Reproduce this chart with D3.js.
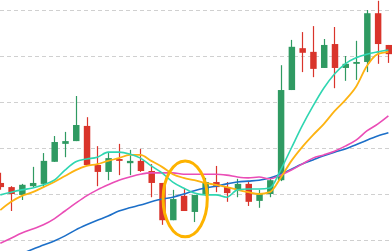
<!DOCTYPE html>
<html>
<head>
<meta charset="utf-8">
<script src="https://cdn.jsdelivr.net/npm/d3@7"></script>
<style>
  html, body { margin: 0; padding: 0; background: #fff; overflow: hidden; }
</style>
</head>
<body>
<script>
// candle values (open, close, high, low), one per session
const opens  = [12.4, 11.5, 9.8, 11.7, 12.2, 17.0, 20.9, 21.5, 24.8, 16.3, 14.8, 17.6, 16.7, 17.2, 15.0, 12.4, 4.3, 9.6, 6.1, 9.8, 12.6, 11.5, 10.7, 12.2, 8.5, 10.0, 13.0, 32.6, 41.7, 40.9, 37.4, 42.6, 37.4, 38.3, 38.7, 49.3, 42.4];
const closes = [11.5, 10.0, 12.0, 12.4, 17.2, 21.3, 21.5, 25.0, 16.3, 14.8, 17.8, 17.2, 17.2, 15.0, 12.4, 4.3, 8.9, 6.3, 9.8, 12.6, 11.5, 10.2, 12.2, 8.3, 10.0, 13.0, 32.6, 42.0, 40.7, 37.2, 42.4, 37.4, 38.3, 38.7, 49.3, 42.6, 40.4];
const highs  = [14.6, 11.7, 12.2, 15.9, 18.9, 22.6, 23.5, 31.3, 26.7, 20.4, 18.9, 20.9, 19.6, 19.8, 16.5, 12.4, 10.9, 11.3, 9.8, 13.5, 16.1, 12.6, 13.3, 12.6, 10.9, 13.3, 38.0, 43.5, 45.2, 46.5, 43.7, 46.3, 40.0, 43.3, 50.0, 52.0, 42.4];
const lows   = [10.9, 6.3, 8.7, 11.5, 11.3, 17.0, 18.0, 21.5, 16.3, 11.7, 13.0, 14.1, 14.1, 14.8, 9.3, 3.3, 4.3, 6.3, 3.9, 9.6, 10.4, 8.3, 9.3, 7.4, 7.0, 9.3, 12.8, 32.6, 36.5, 35.4, 37.4, 33.0, 34.6, 34.8, 36.5, 38.3, 38.5];

// moving averages
const ma5  = [9.8, 10.4, 10.9, 11.3, 12.0, 13.0, 15.2, 17.0, 17.6, 18.0, 19.1, 19.1, 18.7, 17.8, 16.1, 14.6, 12.6, 11.3, 10.2, 9.8, 9.8, 9.3, 10.9, 11.1, 11.1, 11.3, 15.2, 20.0, 24.8, 29.1, 33.0, 36.1, 38.3, 39.6, 40.4, 40.9, 41.3];
const ma10 = [6.5, 8.3, 9.6, 10.4, 11.5, 12.6, 13.9, 15.2, 16.1, 16.5, 17.2, 17.8, 18.5, 18.5, 17.2, 15.9, 14.3, 13.5, 13.0, 12.4, 12.0, 11.5, 10.9, 10.4, 10.0, 10.4, 13.5, 17.2, 20.2, 22.8, 25.2, 28.0, 30.4, 33.3, 37.8, 40.4, 40.9];
const ma20 = [-0.7, 0.4, 1.5, 2.4, 3.3, 4.6, 6.3, 8.0, 9.6, 10.9, 12.0, 13.0, 13.7, 14.3, 14.6, 14.6, 14.6, 14.3, 14.3, 14.3, 14.3, 14.1, 13.7, 13.5, 13.7, 13.3, 14.1, 15.2, 16.5, 17.8, 18.5, 19.3, 20.4, 21.7, 23.7, 25.2, 27.0];
const ma30 = [-5.2, -4.1, -3.0, -2.0, -1.1, -0.2, 0.9, 2.2, 3.3, 4.3, 5.2, 6.3, 7.0, 7.6, 8.3, 8.9, 9.3, 10.0, 10.7, 11.3, 11.7, 12.2, 12.6, 12.8, 13.0, 13.5, 14.3, 15.4, 16.5, 17.4, 18.3, 19.1, 19.8, 20.7, 21.7, 22.6, 23.3];

const gridTicks = [0, 10, 20, 30, 40, 50];

// circled sessions (index span and price span)
const highlight = {start: 15.1, end: 19.2, low: 0.7, high: 17.2};

const width = 392;
const height = 251;

const svg = d3.select("body").append("svg")
    .attr("width", width)
    .attr("height", height);

const xScale = d3.scaleLinear()
    .domain([0, opens.length - 1])
    .range([0.3, 388.4]);

const yScale = d3.scaleLinear()
    .domain([0, 50])
    .range([240, 10]);

const step = xScale(1) - xScale(0);
const bodyWidth = step * 0.6;

// dashed grid
const yAxis = d3.axisLeft(yScale)
    .tickValues(gridTicks)
    .tickSize(-width)
    .tickFormat("");

svg.append("g")
    .attr("transform", "translate(0,0)")
    .call(yAxis)
    .call(g => g.select(".domain").remove())
    .call(g => g.selectAll(".tick line")
        .attr("stroke", "#d0d0d0")
        .attr("stroke-dasharray", "4,3"));

const candles = opens.map((o, i) => ({
    i: i, open: o, close: closes[i], high: highs[i], low: lows[i]
}));

const green = "#2f9a62";
const red = "#d9342b";
const color = (d) => d.close >= d.open ? green : red;

svg.append("g").selectAll("line")
    .data(candles)
    .enter()
    .append("line")
    .attr("x1", d => Math.round(xScale(d.i)) + 0.5)
    .attr("x2", d => Math.round(xScale(d.i)) + 0.5)
    .attr("y1", d => yScale(d.high))
    .attr("y2", d => yScale(d.low))
    .attr("stroke", color)
    .attr("stroke-width", 1.2);

svg.append("g").selectAll("rect")
    .data(candles)
    .enter()
    .append("rect")
    .attr("x", d => xScale(d.i) - bodyWidth / 2 + 0.5)
    .attr("y", d => yScale(Math.max(d.open, d.close)))
    .attr("width", bodyWidth)
    .attr("height", d => Math.max(1.5, Math.abs(yScale(d.open) - yScale(d.close))))
    .attr("fill", color);

const series = [
    {values: ma30, color: "#1c6fc8", width: 1.6},
    {values: ma20, color: "#ea4db6", width: 1.6},
    {values: ma10, color: "#fdb312", width: 1.8},
    {values: ma5,  color: "#2fd6b1", width: 1.6}
];

const line = d3.line()
    .x((d, i) => xScale(i))
    .y(d => yScale(d))
    .curve(d3.curveMonotoneX);

svg.append("g").selectAll("path")
    .data(series)
    .enter()
    .append("path")
    .attr("d", d => line(d.values))
    .attr("fill", "none")
    .attr("stroke", d => d.color)
    .attr("stroke-width", d => d.width);

// highlight ring
svg.append("ellipse")
    .attr("cx", (xScale(highlight.start) + xScale(highlight.end)) / 2)
    .attr("cy", (yScale(highlight.low) + yScale(highlight.high)) / 2)
    .attr("rx", (xScale(highlight.end) - xScale(highlight.start)) / 2)
    .attr("ry", (yScale(highlight.low) - yScale(highlight.high)) / 2)
    .attr("fill", "none")
    .attr("stroke", "#fdb300")
    .attr("stroke-width", 3);
</script>
</body>
</html>
